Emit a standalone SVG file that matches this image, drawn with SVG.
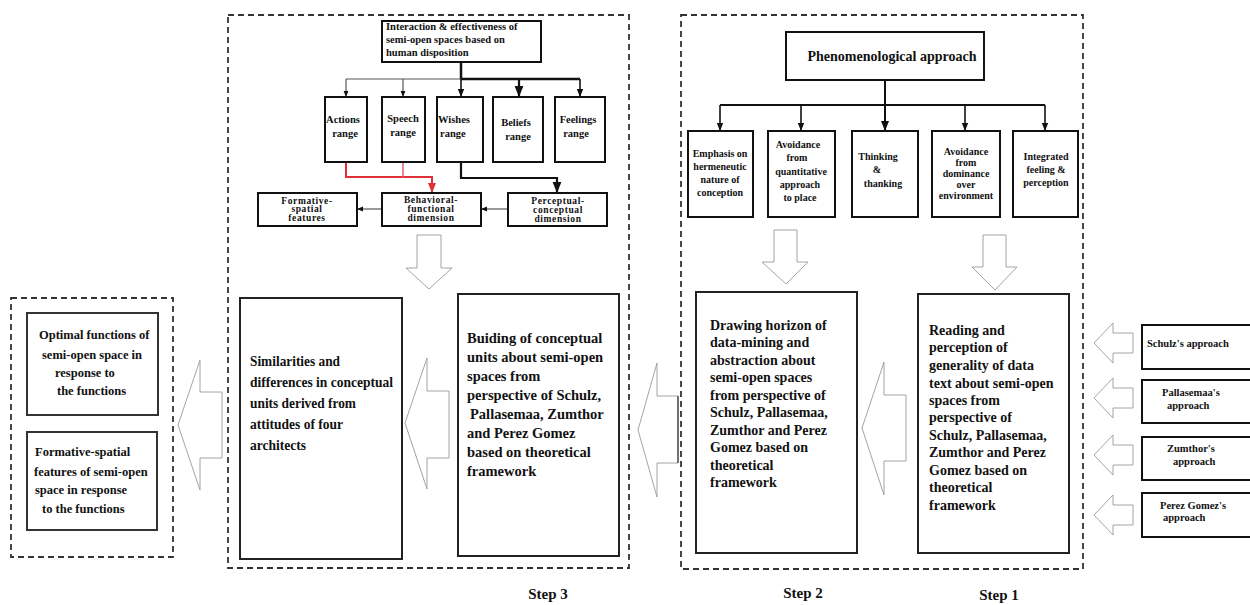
<svg xmlns="http://www.w3.org/2000/svg" width="1250" height="605" viewBox="0 0 1250 605">
<defs>
<style>
text{font-family:'Liberation Serif','DejaVu Serif',serif;font-weight:700;fill:#111}
.dash{fill:none;stroke:#333;stroke-width:1.8;stroke-dasharray:6 4}
.box{fill:#fff;stroke:#111;stroke-width:2}
.bigbox{fill:#fff;stroke:#222;stroke-width:2}
.harrow{fill:#fff;stroke:#9a9a9a;stroke-width:0.9}
.ln{fill:none;stroke:#111;stroke-width:1.6}
.lnthin{fill:none;stroke:#555;stroke-width:1.2}
.red{fill:none;stroke:#e0303a;stroke-width:2}
.c{text-anchor:middle}
</style>
<marker id="ah" viewBox="0 0 10 10" refX="10" refY="5" markerWidth="5" markerHeight="5" orient="auto-start-reverse">
<path d="M0,1 L10,5 L0,9 z" fill="#111"/>
</marker>
<marker id="ahr" viewBox="0 0 10 10" refX="10" refY="5" markerWidth="5" markerHeight="5" orient="auto-start-reverse">
<path d="M0,1 L10,5 L0,9 z" fill="#e0303a"/>
</marker>
</defs>
<rect width="1250" height="605" fill="#fff"/>

<g id="frames">
<rect class="dash" x="11" y="298" width="162" height="259"/>
<rect class="dash" x="228" y="15" width="401" height="553"/>
<rect class="dash" x="681" y="15" width="402" height="554"/>
</g>

<g id="connectors">
<line class="ln" x1="461" y1="62" x2="461" y2="79" style="stroke-width:2.5"/>
<line class="lnthin" x1="346" y1="79" x2="461" y2="79"/>
<line class="ln" x1="461" y1="79" x2="580" y2="79" style="stroke-width:2.5"/>
<line class="lnthin" x1="346" y1="79" x2="346" y2="97" marker-end="url(#ah)"/>
<line class="lnthin" x1="403" y1="79" x2="403" y2="97" marker-end="url(#ah)"/>
<line class="ln" x1="461" y1="79" x2="461" y2="97" marker-end="url(#ah)"/>
<line class="ln" x1="519" y1="79" x2="519" y2="97" marker-end="url(#ah)" style="stroke-width:2.2"/>
<line class="ln" x1="580" y1="79" x2="580" y2="97" marker-end="url(#ah)"/>
<polyline class="red" points="346,162 346,177 432,177 432,193" marker-end="url(#ahr)"/>
<line class="red" x1="403" y1="162" x2="403" y2="177" style="stroke:#e06070;stroke-width:1.5"/>
<polyline class="ln" points="461,162 461,178 557,178 557,193" marker-end="url(#ah)" style="stroke-width:2.2"/>
<line class="lnthin" x1="382" y1="209" x2="357" y2="209" marker-end="url(#ah)"/>
<line class="lnthin" x1="508" y1="209" x2="481" y2="209" marker-end="url(#ah)"/>
<line class="ln" x1="885" y1="80" x2="885" y2="131" marker-end="url(#ah)" style="stroke-width:2"/>
<line class="ln" x1="720" y1="105" x2="1045" y2="105" style="stroke-width:1.8"/>
<line class="ln" x1="720" y1="105" x2="720" y2="131" marker-end="url(#ah)"/>
<line class="ln" x1="801" y1="105" x2="801" y2="131" marker-end="url(#ah)"/>
<line class="ln" x1="965" y1="105" x2="965" y2="131" marker-end="url(#ah)"/>
<line class="ln" x1="1045" y1="105" x2="1045" y2="131" marker-end="url(#ah)"/>
<polygon class="harrow" points="417,235 441,235 441,268 452,268 429,289 406,268 417,268"/>
<polygon class="harrow" points="774,230 797,230 797,262 808,262 786,284 762,262 774,262"/>
<polygon class="harrow" points="983,235 1006,235 1006,267 1017,267 995,290 972,267 983,267"/>
<polygon class="harrow" points="862,428 884,362 884,395 906,395 906,461 884,461 884,495"/>
<polygon class="harrow" points="638,430 657,363 657,396 678,396 678,463 657,463 657,497"/>
<line x1="678" y1="396" x2="678" y2="463" stroke="#333" stroke-width="1.2"/>
<polygon class="harrow" points="405,423 427,358 427,391 449,391 449,458 427,458 427,489"/>
<polygon class="harrow" points="178,425 200,360 200,392 222,392 222,458 200,458 200,490"/>
<polygon class="harrow" points="1094,343 1113,323 1113,333 1133,333 1133,353 1113,353 1113,363"/>
<polygon class="harrow" points="1094,398 1113,378 1113,388 1133,388 1133,408 1113,408 1113,418"/>
<polygon class="harrow" points="1094,455 1113,435 1113,445 1133,445 1133,465 1113,465 1113,475"/>
<polygon class="harrow" points="1094,515 1113,495 1113,505 1133,505 1133,525 1113,525 1113,535"/>
</g>

<g id="n-interaction">
<rect class="box" x="382" y="21" width="159" height="41"/>
<text font-size="10.5"><tspan x="386" y="30">Interaction &amp; effectiveness of</tspan><tspan x="386" y="43">semi-open spaces based on</tspan><tspan x="386" y="56">human disposition</tspan></text>
</g>
<g id="n-actions">
<rect class="box" x="325" y="97" width="42" height="65"/>
<text class="c" font-size="10.5"><tspan x="343" y="123">Actions</tspan><tspan x="345" y="137">range</tspan></text>
</g>
<g id="n-speech">
<rect class="box" x="382" y="97" width="43" height="65"/>
<text class="c" font-size="10.5"><tspan x="403" y="122">Speech</tspan><tspan x="403" y="136">range</tspan></text>
</g>
<g id="n-wishes">
<rect class="box" x="437" y="97" width="46" height="65"/>
<text font-size="10.5"><tspan x="438" y="123">Wishes</tspan><tspan x="440" y="137">range</tspan></text>
</g>
<g id="n-beliefs">
<rect class="box" x="493" y="97" width="50" height="65"/>
<text class="c" font-size="10.5"><tspan x="516" y="126">Beliefs</tspan><tspan x="518" y="140">range</tspan></text>
</g>
<g id="n-feelings">
<rect class="box" x="555" y="97" width="50" height="65"/>
<text class="c" font-size="10.5"><tspan x="578" y="123">Feelings</tspan><tspan x="576" y="137">range</tspan></text>
</g>
<g id="n-formative">
<rect class="box" x="258" y="193" width="99" height="33"/>
<text class="c" font-size="9.5" letter-spacing="0.6"><tspan x="307" y="204">Formative-</tspan><tspan x="307" y="212">spatial</tspan><tspan x="307" y="221">features</tspan></text>
</g>
<g id="n-behavioral">
<rect class="box" x="382" y="193" width="99" height="33"/>
<text class="c" font-size="9.5" letter-spacing="0.6"><tspan x="431" y="203">Behavioral-</tspan><tspan x="431" y="212">functional</tspan><tspan x="431" y="221">dimension</tspan></text>
</g>
<g id="n-perceptual">
<rect class="box" x="508" y="193" width="99" height="33"/>
<text class="c" font-size="9.5" letter-spacing="0.6"><tspan x="558" y="204">Perceptual-</tspan><tspan x="558" y="213">conceptual</tspan><tspan x="558" y="222">dimension</tspan></text>
</g>
<g id="n-similarities">
<rect class="bigbox" x="240" y="298" width="162" height="261"/>
<text font-size="15"><tspan x="250" y="366" textLength="90" lengthAdjust="spacingAndGlyphs">Similarities and</tspan><tspan x="250" y="387" textLength="143" lengthAdjust="spacingAndGlyphs">differences in conceptual</tspan><tspan x="250" y="408" textLength="106" lengthAdjust="spacingAndGlyphs">units derived from</tspan><tspan x="250" y="429" textLength="93" lengthAdjust="spacingAndGlyphs">attitudes of four</tspan><tspan x="250" y="450" textLength="56" lengthAdjust="spacingAndGlyphs">architects</tspan></text>
</g>
<g id="n-buiding">
<rect class="bigbox" x="458" y="294" width="161" height="262"/>
<text font-size="14.5"><tspan x="467" y="343">Buiding of conceptual</tspan><tspan x="467" y="362">units about semi-open</tspan><tspan x="467" y="381">spaces from</tspan><tspan x="467" y="400">perspective of Schulz,</tspan><tspan x="470" y="419">Pallasemaa, Zumthor</tspan><tspan x="467" y="438">and Perez Gomez</tspan><tspan x="467" y="457">based on theoretical</tspan><tspan x="467" y="476">framework</tspan></text>
</g>

<g id="n-optimal">
<rect class="box" x="27" y="313" width="131" height="102" style="stroke:#333"/>
<text font-size="12.5"><tspan x="39" y="339">Optimal functions of</tspan><tspan x="42" y="359">semi-open space in</tspan><tspan x="55" y="377">response to</tspan><tspan x="57" y="395">the functions</tspan></text>
</g>
<g id="n-formative-out">
<rect class="box" x="27" y="432" width="130" height="98" style="stroke:#333"/>
<text font-size="12.5"><tspan x="35" y="456">Formative-spatial</tspan><tspan x="34" y="476">features of semi-open</tspan><tspan x="35" y="494">space in response</tspan><tspan x="42" y="513">to the functions</tspan></text>
</g>

<g id="n-phenom">
<rect class="box" x="786" y="32" width="198" height="48"/>
<text class="c" font-size="14" x="892" y="61">Phenomenological approach</text>
</g>
<g id="n-emphasis">
<rect class="box" x="688" y="131" width="65" height="86"/>
<text class="c" font-size="10"><tspan x="720" y="157">Emphasis on</tspan><tspan x="720" y="170">hermeneutic</tspan><tspan x="720" y="183">nature of</tspan><tspan x="720" y="196">conception</tspan></text>
</g>
<g id="n-avoid-quant">
<rect class="box" x="768" y="131" width="67" height="86"/>
<text class="c" font-size="10"><tspan x="798" y="148">Avoidance</tspan><tspan x="797" y="161">from</tspan><tspan x="801" y="175">quantitative</tspan><tspan x="800" y="188">approach</tspan><tspan x="800" y="201">to place</tspan></text>
</g>
<g id="n-thinking">
<rect class="box" x="852" y="131" width="66" height="86"/>
<text class="c" font-size="10"><tspan x="878" y="160">Thinking</tspan><tspan x="877" y="173">&amp;</tspan><tspan x="883" y="187">thanking</tspan></text>
</g>
<g id="n-avoid-dom">
<rect class="box" x="932" y="131" width="68" height="86"/>
<text class="c" font-size="10"><tspan x="966" y="155">Avoidance</tspan><tspan x="966" y="166">from</tspan><tspan x="966" y="177">dominance</tspan><tspan x="966" y="188">over</tspan><tspan x="966" y="199">environment</tspan></text>
</g>
<g id="n-integrated">
<rect class="box" x="1013" y="131" width="65" height="86"/>
<text class="c" font-size="10"><tspan x="1046" y="160">Integrated</tspan><tspan x="1046" y="173">feeling &amp;</tspan><tspan x="1046" y="186">perception</tspan></text>
</g>
<g id="n-drawing">
<rect class="bigbox" x="696" y="292" width="161" height="261"/>
<text font-size="14"><tspan x="710" y="330">Drawing horizon of</tspan><tspan x="710" y="347">data-mining and</tspan><tspan x="710" y="365">abstraction  about</tspan><tspan x="710" y="382">semi-open spaces</tspan><tspan x="710" y="400">from perspective of</tspan><tspan x="710" y="417">Schulz, Pallasemaa,</tspan><tspan x="710" y="435">Zumthor and Perez</tspan><tspan x="710" y="452">Gomez based on</tspan><tspan x="710" y="470">theoretical</tspan><tspan x="710" y="487">framework</tspan></text>
</g>

<g id="n-reading">
<rect class="bigbox" x="918" y="294" width="151" height="259"/>
<text font-size="14"><tspan x="929" y="335">Reading and</tspan><tspan x="929" y="352">perception of</tspan><tspan x="929" y="370">generality of data</tspan><tspan x="929" y="388">text about semi-open</tspan><tspan x="929" y="405">spaces from</tspan><tspan x="929" y="422">perspective of</tspan><tspan x="929" y="440">Schulz, Pallasemaa,</tspan><tspan x="929" y="457">Zumthor and Perez</tspan><tspan x="929" y="475">Gomez based on</tspan><tspan x="929" y="492">theoretical</tspan><tspan x="929" y="510">framework</tspan></text>
</g>

<g id="n-schulz">
<rect class="box" x="1142" y="325" width="110" height="44"/>
<text font-size="10.5" x="1147" y="347">Schulz's approach</text>
</g>
<g id="n-pallasemaa">
<rect class="box" x="1142" y="380" width="110" height="43"/>
<text font-size="10.5"><tspan x="1162" y="396">Pallasemaa's</tspan><tspan x="1167" y="409">approach</tspan></text>
</g>
<g id="n-zumthor">
<rect class="box" x="1142" y="437" width="110" height="43"/>
<text font-size="10.5"><tspan x="1167" y="452">Zumthor's</tspan><tspan x="1173" y="465">approach</tspan></text>
</g>
<g id="n-perez">
<rect class="box" x="1142" y="493" width="110" height="44"/>
<text font-size="10.5"><tspan x="1160" y="509">Perez Gomez's</tspan><tspan x="1163" y="521">approach</tspan></text>
</g>

<g id="labels">
<text class="c" font-size="15" x="548" y="599">Step 3</text>
<text class="c" font-size="15" x="803" y="598">Step 2</text>
<text class="c" font-size="15" x="999" y="600">Step 1</text>
</g>
</svg>
